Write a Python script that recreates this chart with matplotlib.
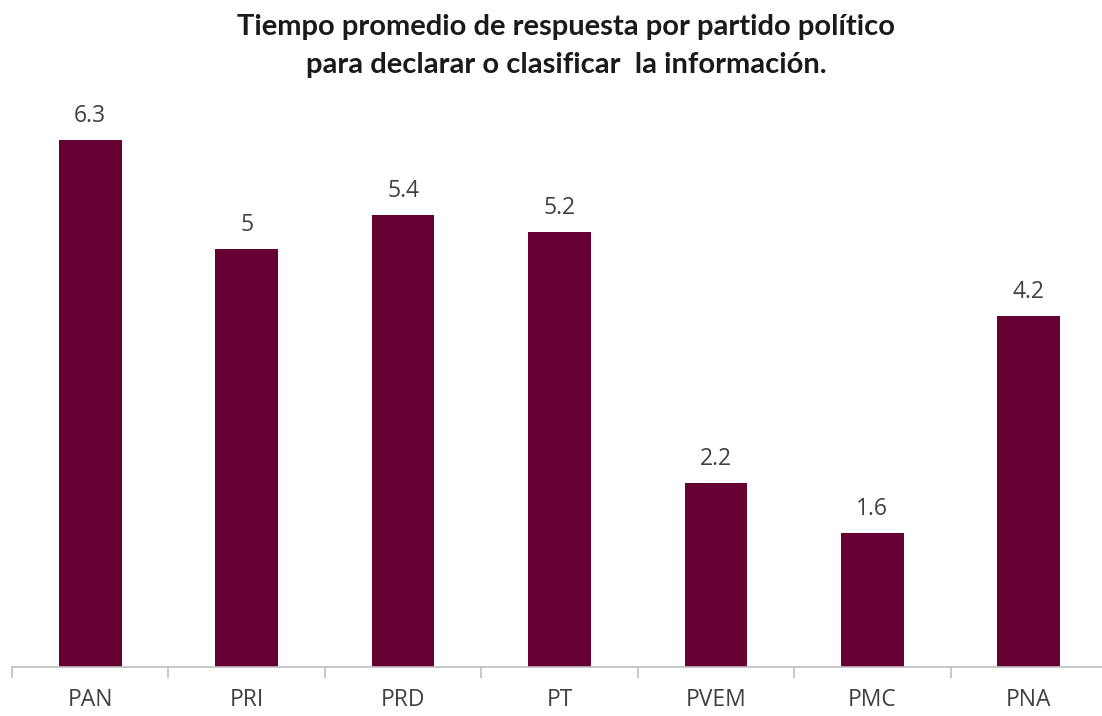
import matplotlib
matplotlib.use("Agg")
import matplotlib.pyplot as plt
import numpy as np

categories = ["PAN", "PRI", "PRD", "PT", "PVEM", "PMC", "PNA"]
values = [6.3, 5, 5.4, 5.2, 2.2, 1.6, 4.2]
labels = ["6.3", "5", "5.4", "5.2", "2.2", "1.6", "4.2"]
title_lines = ["Tiempo promedio de respuesta por partido político",
               "para declarar o clasificar  la información."]

fig = plt.figure(figsize=(11.02, 7.16), dpi=100)
ax = fig.add_axes([12/1102, 1 - 667/716, 1095/1102, 567/716])
x = np.arange(len(categories))
ax.bar(x, values, width=0.4, color="#660033")
ax.set_xlim(-0.5, len(categories) - 0.5)
ax.set_ylim(0, 567/83.65)
for xi, v, l in zip(x, values, labels):
    ax.annotate(l, (xi, v), xytext=(0, 13), textcoords="offset points",
                ha="center", va="baseline", fontsize=16.5, color="#404040", family="Open Sans")
ax.set_yticks([])
ax.set_xticks(x)
ax.set_xticklabels(categories, fontsize=16.5, color="#404040", family="Open Sans")
ax.set_xticks(np.arange(len(categories) + 1) - 0.5, minor=True)
ax.tick_params(axis="x", which="major", length=0, pad=15)
ax.tick_params(axis="x", which="minor", length=8, color="#bfbfbf", width=1.2)
for s in ["top", "right", "left"]:
    ax.spines[s].set_visible(False)
ax.spines["bottom"].set_color("#bfbfbf")
ax.spines["bottom"].set_linewidth(1.2)
for line, yb in zip(title_lines, [35, 73]):
    fig.text(566/1102, 1 - yb/716, line, ha="center", va="baseline", fontsize=21,
             fontweight="bold", family="Lato", color="#1a1a1a")
fig.savefig("out.png", dpi=100)
